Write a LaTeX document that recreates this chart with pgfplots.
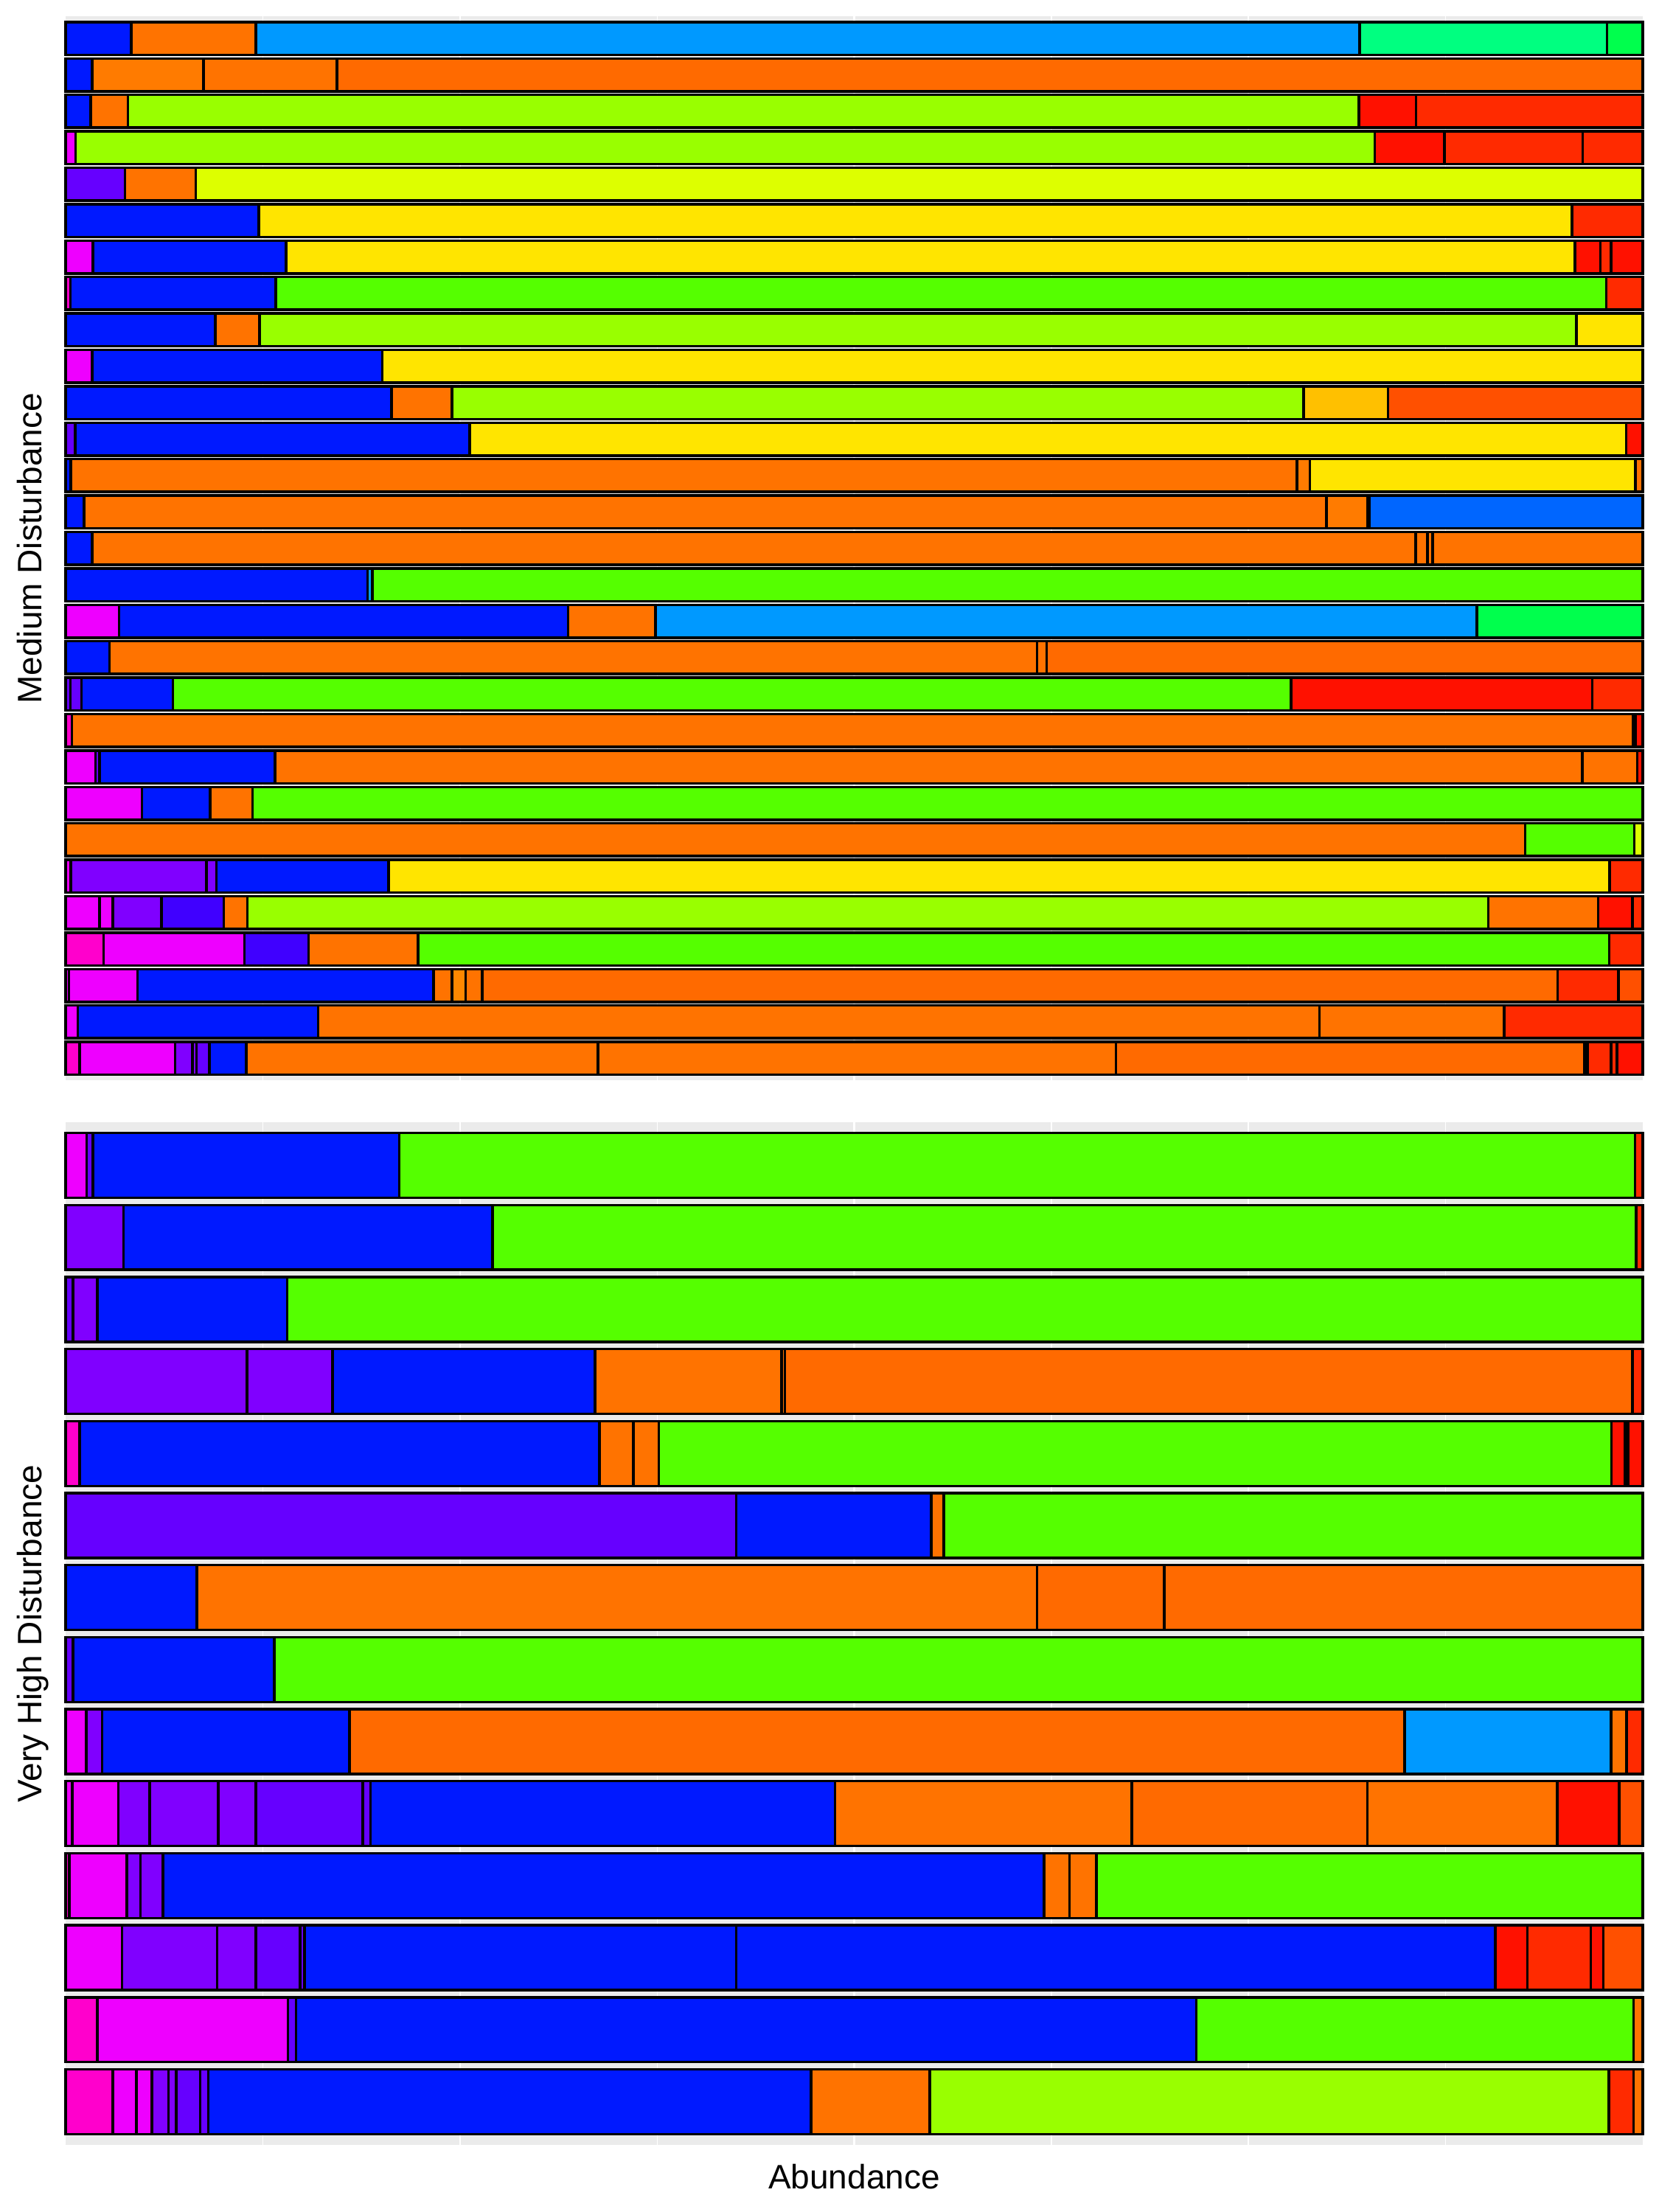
\documentclass[border=0pt]{standalone}
\usepackage{fontspec}
\setmainfont{Liberation Sans}
\usepackage{pgfplots}
\pgfplotsset{compat=1.18}
\definecolor{panelgrey}{HTML}{EBEBEB}
\definecolor{pk}{HTML}{FF00CC}
\definecolor{mg}{HTML}{EE00FF}
\definecolor{pu}{HTML}{8000FF}
\definecolor{vi}{HTML}{6600FF}
\definecolor{ind}{HTML}{4000FF}
\definecolor{bl}{HTML}{0019FF}
\definecolor{bm}{HTML}{0066FF}
\definecolor{lb}{HTML}{0099FF}
\definecolor{sg}{HTML}{00FF80}
\definecolor{gg}{HTML}{00FF4D}
\definecolor{gr}{HTML}{55FF00}
\definecolor{yg}{HTML}{99FF00}
\definecolor{li}{HTML}{DDFF00}
\definecolor{ye}{HTML}{FFE500}
\definecolor{go}{HTML}{FFC000}
\definecolor{ol}{HTML}{FF8800}
\definecolor{ow}{HTML}{FF7B00}
\definecolor{or}{HTML}{FF7300}
\definecolor{od}{HTML}{FF6A00}
\definecolor{ro}{HTML}{FF5000}
\definecolor{rr}{HTML}{FF2A00}
\definecolor{rd}{HTML}{FF1100}
% one segment: row y, start x0, end x1, colour
\newcommand\seg[4]{%
  \pgfmathsetmacro\ylo{#1-0.45}\pgfmathsetmacro\yhi{#1+0.45}%
  \edef\tmp{\noexpand\addplot[fill=#4,draw=black,line width=0.7pt,line join=miter]
    coordinates {(#2,\ylo) (#3,\ylo) (#3,\yhi) (#2,\yhi)} --cycle;}\tmp}
% one bar: row y, list colour/end
\newcommand\hrow[2]{\gdef\px{0}%
  \foreach \col/\xe in {#2}{\seg{#1}{\px}{\xe}{\col}\xdef\px{\xe}}}
\pgfplotsset{panel/.style={scale only axis, width=427.8pt, xmin=0, xmax=1,
  axis background/.style={fill=panelgrey}, axis line style={draw=none},
  xtick={0.25,0.5,0.75}, minor xtick={0.125,0.375,0.625,0.875},
  xticklabels={}, ytick=\empty, xmajorgrids, xminorgrids,
  major grid style={white,line width=0.45pt}, minor grid style={white,line width=0.25pt},
  major tick length=0pt, minor tick length=0pt, clip=false}}
\begin{document}
\begin{tikzpicture}[x=1pt,y=1pt]
\path[use as bounding box] (0,0) rectangle (450,600);
\begin{axis}[panel, height=288.5pt, ymin=0.4, ymax=29.6, at={(17.8pt,307pt)}, anchor=south west]
\hrow{29}{bl/0.0415, or/0.1206, lb/0.8204, sg/0.9772, gg/1}
\hrow{28}{bl/0.0168, ow/0.0875, or/0.172, od/1}
\hrow{27}{bl/0.0158, or/0.0394, yg/0.820, rd/0.8563, rr/1}
\hrow{26}{mg/0.0064, yg/0.830, rd/0.8742, rr/0.9620, rr/1}
\hrow{25}{vi/0.0377, or/0.0826, li/1}
\hrow{24}{bl/0.1224, ye/0.955, rr/1}
\hrow{23}{mg/0.0172, bl/0.1397, ye/0.957, rd/0.973, rr/0.980, rd/1}
\hrow{22}{pk/0.003, bl/0.1333, gr/0.9768, rr/1}
\hrow{21}{bl/0.095, or/0.1229, yg/0.958, ye/1}
\hrow{20}{mg/0.0168, bl/0.2009, ye/1}
\hrow{19}{bl/0.2066, or/0.245, yg/0.785, go/0.8385, ro/1}
\hrow{18}{vi/0.0061, bl/0.2562, ye/0.9895, rd/1}
\hrow{17}{bl/0.0033, or/0.7807, ow/0.789, ye/0.9953, or/1}
\hrow{16}{bl/0.0116, or/0.7995, ow/0.8254, or/0.8268, bm/1}
\hrow{15}{bl/0.0168, or/0.856, or/0.8635, or/0.8668, or/1}
\hrow{14}{bl/0.1915, lb/0.1945, gr/1}
\hrow{13}{mg/0.034, bl/0.3187, or/0.374, lb/0.8948, gg/1}
\hrow{12}{bl/0.0279, or/0.616, or/0.622, od/1}
\hrow{11}{vi/0.003, vi/0.0101, bl/0.068, gr/0.777, rd/0.968, rr/1}
\hrow{10}{pk/0.004, or/0.994, rr/0.9955, rd/1}
\hrow{9}{mg/0.0189, vi/0.0214, bl/0.1328, or/0.9617, or/0.9965, rd/1}
\hrow{8}{mg/0.0485, bl/0.0916, or/0.1185, gr/1}
\hrow{7}{or/0.9255, gr/0.9947, li/1}
\hrow{6}{mg/0.0033, pu/0.0893, pu/0.0957, bl/0.2047, ye/0.979, rr/1}
\hrow{5}{mg/0.0214, mg/0.0300, pu/0.0607, ind/0.1003, or/0.1153, yg/0.902, or/0.9718, rd/0.9934, rr/1}
\hrow{4}{pk/0.0241, mg/0.1134, ind/0.1541, or/0.2234, gr/0.9788, rr/1}
\hrow{3}{mg/0.0022, mg/0.0456, bl/0.2332, or/0.245, ol/0.2537, or/0.2641, od/0.946, rr/0.9846, ro/1}
\hrow{2}{mg/0.0076, bl/0.1602, or/0.795, or/0.912, rr/1}
\hrow{1}{pk/0.0089, mg/0.0694, pu/0.0805, pu/0.083, vi/0.0911, bl/0.1145, or/0.3375, or/0.666, od/0.963, or/0.965, rr/0.98, rr/0.9837, rd/1}
\end{axis}
\begin{axis}[panel, height=277.4pt, ymin=0.4, ymax=14.6, at={(17.8pt,18.2pt)}, anchor=south west]
\hrow{14}{mg/0.0133, vi/0.0174, bl/0.2115, gr/0.9951, rr/1}
\hrow{13}{pu/0.0366, bl/0.2708, gr/0.9958, rr/1}
\hrow{12}{vi/0.0047, pu/0.0202, bl/0.1406, gr/1}
\hrow{11}{pu/0.1151, pu/0.1692, bl/0.3357, or/0.4539, or/0.456, od/0.9935, rr/1}
\hrow{10}{pk/0.0089, bl/0.3384, or/0.3599, or/0.376, gr/0.9802, rd/0.9888, or/0.9907, rd/1}
\hrow{9}{vi/0.4252, bl/0.5488, or/0.5568, gr/1}
\hrow{8}{bl/0.0832, or/0.616, od/0.6965, od/1}
\hrow{7}{vi/0.0047, bl/0.1322, gr/1}
\hrow{6}{mg/0.0131, pu/0.0231, bl/0.18, od/0.849, lb/0.98, or/0.9897, rr/1}
\hrow{5}{mg/0.0043, mg/0.0335, pu/0.0534, pu/0.0968, pu/0.1206, vi/0.1884, vi/0.1932, bl/0.4879, or/0.676, od/0.8254, or/0.9458, rd/0.985, ro/1}
\hrow{4}{pk/0.0024, mg/0.0387, pu/0.0475, pu/0.0617, bl/0.6204, or/0.6365, or/0.6535, gr/1}
\hrow{3}{mg/0.0357, pu/0.0961, pu/0.1206, vi/0.1487, vi/0.1515, bl/0.4252, bl/0.9065, rd/0.9269, rr/0.967, rd/0.975, ro/1}
\hrow{2}{pk/0.02, mg/0.141, vi/0.1462, bl/0.717, gr/0.9942, or/1}
\hrow{1}{pk/0.03, mg/0.0449, mg/0.0548, pu/0.0653, pu/0.0702, vi/0.0853, vi/0.0905, bl/0.4727, or/0.5479, yg/0.9786, rr/0.9942, or/1}
\end{axis}
\node[rotate=90, anchor=base, font=\fontsize{9.2pt}{11pt}\selectfont] at (11.4pt,451.25pt) {Medium Disturbance};
\node[rotate=90, anchor=base, font=\fontsize{9.2pt}{11pt}\selectfont] at (11.4pt,156.9pt) {Very High Disturbance};
\node[anchor=base, font=\fontsize{9.2pt}{11pt}\selectfont] at (231.7pt,6.4pt) {Abundance};
\end{tikzpicture}
\end{document}
